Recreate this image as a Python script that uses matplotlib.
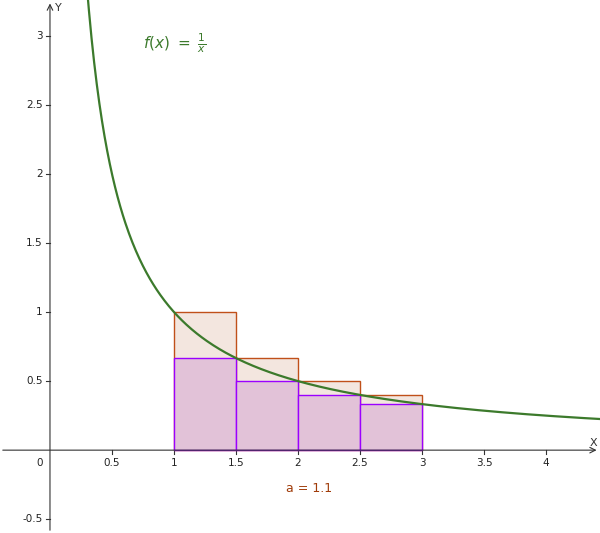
import numpy as np
import matplotlib.pyplot as plt

# rectangle data for f(x) = 1/x on [1, 3], width 0.5
lefts = [1.0, 1.5, 2.0, 2.5]
width = 0.5
upper = [1.0, 0.6667, 0.5, 0.4]
lower = [0.6667, 0.5, 0.4, 0.3333]
xticks = [0.5, 1, 1.5, 2, 2.5, 3, 3.5, 4]
yticks = [-0.5, 0.5, 1, 1.5, 2, 2.5, 3]

fig = plt.figure(figsize=(6, 5.33), dpi=100)
ax = fig.add_axes([0, 0, 1, 1])
ax.set_xlim(-0.403, 4.435)
ax.set_ylim(-0.60, 3.26)
ax.axis('off')

ax.bar(lefts, upper, width=width, align='edge', color='#f3e6df', edgecolor='#c0501a', linewidth=1, zorder=2)
ax.bar(lefts, lower, width=width, align='edge', color='#e2c2d8', edgecolor='#9b00ff', linewidth=1, zorder=3)

x = np.linspace(0.3, 4.5, 600)
ax.plot(x, 1 / x, color='#3c7a2c', linewidth=1.6, zorder=4)

# axes with arrows
ax.annotate('', xy=(4.43, 0), xytext=(-0.403, 0),
            arrowprops=dict(arrowstyle='->', color='#333333', lw=0.8))
ax.annotate('', xy=(0, 3.255), xytext=(0, -0.60),
            arrowprops=dict(arrowstyle='->', color='#333333', lw=0.8))
ax.text(4.35, 0.03, 'X', fontsize=8, color='#333333')
ax.text(0.04, 3.18, 'Y', fontsize=8, color='#333333')

for t in xticks:
    ax.plot([t, t], [0, -0.025], color='#333333', lw=0.8)
    ax.text(t, -0.06, f'{t:g}', fontsize=7.5, ha='center', va='top', color='#222222')
for t in yticks:
    ax.plot([0, -0.03], [t, t], color='#333333', lw=0.8)
    ax.text(-0.06, t, f'{t:g}', fontsize=7.5, ha='right', va='center', color='#222222')
ax.text(-0.06, -0.06, '0', fontsize=7.5, ha='right', va='top', color='#222222')

ax.text(0.75, 2.95, r'$f(x)\ =\ \frac{1}{x}$', fontsize=11, color='#3c7a2c', va='center')
ax.text(1.9, -0.28, 'a = 1.1', fontsize=9, color='#a03c0a', va='center')

fig.savefig('out.png', dpi=100)
